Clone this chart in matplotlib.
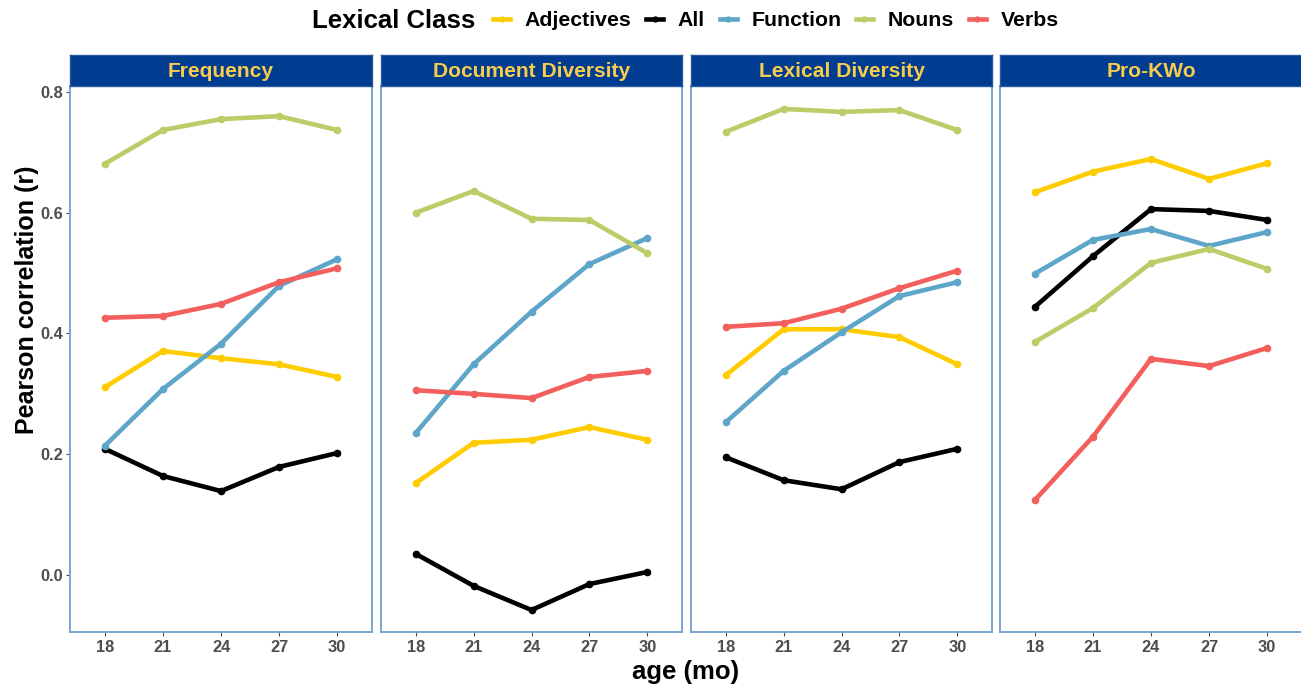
import matplotlib
matplotlib.use("Agg")
import matplotlib.pyplot as plt
from matplotlib.lines import Line2D

ages = [18, 21, 24, 27, 30]
classes = ["Adjectives", "All", "Function", "Nouns", "Verbs"]
measures = ["Frequency", "Document Diversity", "Lexical Diversity", "Pro-KWo"]

# Pearson r per lexical class, one list per measure
frequency = {
  "Adjectives": [0.311, 0.371, 0.359, 0.349, 0.328],
  "All":        [0.209, 0.164, 0.139, 0.179, 0.202],
  "Function":   [0.214, 0.308, 0.383, 0.479, 0.523],
  "Nouns":      [0.681, 0.737, 0.755, 0.760, 0.737],
  "Verbs":      [0.426, 0.429, 0.449, 0.485, 0.508],
}
doc_diversity = {
  "Adjectives": [0.152, 0.219, 0.224, 0.245, 0.224],
  "All":        [0.035, -0.018, -0.058, -0.015, 0.005],
  "Function":   [0.235, 0.349, 0.436, 0.515, 0.558],
  "Nouns":      [0.600, 0.636, 0.590, 0.588, 0.533],
  "Verbs":      [0.306, 0.300, 0.293, 0.328, 0.338],
}
lex_diversity = {
  "Adjectives": [0.331, 0.407, 0.407, 0.394, 0.349],
  "All":        [0.195, 0.157, 0.142, 0.187, 0.209],
  "Function":   [0.253, 0.338, 0.402, 0.462, 0.485],
  "Nouns":      [0.734, 0.772, 0.767, 0.770, 0.737],
  "Verbs":      [0.411, 0.417, 0.441, 0.475, 0.504],
}
pro_kwo = {
  "Adjectives": [0.634, 0.668, 0.689, 0.656, 0.682],
  "All":        [0.444, 0.528, 0.606, 0.603, 0.588],
  "Function":   [0.499, 0.555, 0.573, 0.545, 0.568],
  "Nouns":      [0.386, 0.442, 0.517, 0.540, 0.507],
  "Verbs":      [0.124, 0.229, 0.358, 0.346, 0.376],
}
panel_data = [frequency, doc_diversity, lex_diversity, pro_kwo]

colors = {
  "Adjectives": "#FFCC00",
  "All": "#000000",
  "Function": "#5EA6C9",
  "Nouns": "#BDCC68",
  "Verbs": "#F25F5C",
}

plt.rcParams["font.family"] = ["Liberation Sans", "DejaVu Sans"]

W, H = 1301, 686
fig = plt.figure(figsize=(W / 100, H / 100), dpi=100)

panel_x = [(70, 372), (381, 682), (691, 992), (1000, 1302)]
top, bottom, strip_top = 86, 632, 55
border = "#7BA6D3"
strip_fill = "#003C8F"
strip_text = "#F7CB4D"
tick_gray = "#4D4D4D"

def fx(px):
  return px / W

def fy(py):
  return 1 - py / H

for i, (x0, x1) in enumerate(panel_x):
  ax = fig.add_axes([fx(x0), fy(bottom), fx(x1 - x0), fy(top) - fy(bottom)])
  data = panel_data[i]
  for c in classes:
    ax.plot(range(len(ages)), data[c], color=colors[c], lw=3.3,
            marker="o", ms=4.5, solid_capstyle="round", zorder=3)
  ax.set_xlim(-0.6, len(ages) - 0.4)
  ax.set_ylim(-0.0944, 0.8099)
  ax.set_xticks(range(len(ages)))
  ax.set_xticklabels([str(a) for a in ages])
  ax.set_yticks([0.0, 0.2, 0.4, 0.6, 0.8])
  if i == 0:
    ax.set_yticklabels(["0.0", "0.2", "0.4", "0.6", "0.8"])
    ax.tick_params(axis="y", length=3, color=tick_gray, labelcolor=tick_gray,
                   labelsize=11.8, pad=2)
  else:
    ax.tick_params(axis="y", left=False, labelleft=False)
  ax.tick_params(axis="x", length=3, color=tick_gray, labelcolor=tick_gray,
                 labelsize=11.8, pad=3)
  for lab in ax.get_xticklabels() + ax.get_yticklabels():
    lab.set_fontweight("bold")
  for sp in ax.spines.values():
    sp.set_color(border)
    sp.set_linewidth(1.4)

  # facet strip
  sax = fig.add_axes([fx(x0), fy(top), fx(x1 - x0), fy(strip_top) - fy(top)])
  sax.set_facecolor(strip_fill)
  sax.set_xticks([])
  sax.set_yticks([])
  for sp in sax.spines.values():
    sp.set_color("#2A5A9E")
    sp.set_linewidth(1.0)
  sax.text(0.5, 0.29, measures[i], transform=sax.transAxes, ha="center", va="baseline",
           color=strip_text, fontsize=15.1, fontweight="bold")

fig.text(fx(27), fy(300), "Pearson correlation (r)", rotation=90, ha="center", va="center",
         fontsize=18, fontweight="bold")
fig.text(fx(686), fy(672), "age (mo)", ha="center", va="center", fontsize=18.5, fontweight="bold")

# legend across the top
fig.text(fx(312), fy(21), "Lexical Class", ha="left", va="center", fontsize=18.5, fontweight="bold")
handles = [Line2D([], [], color=colors[c], lw=3.3, marker="o", ms=3.5) for c in classes]
fig.legend(handles, classes, loc="center left", bbox_to_anchor=(fx(493), fy(21)), ncol=5,
           frameon=False, handlelength=0.8, handletextpad=0.7, columnspacing=0.68,
           prop={"size": 15.3, "weight": "bold"},
           borderaxespad=0, borderpad=0)

fig.savefig("out.png", dpi=100)
